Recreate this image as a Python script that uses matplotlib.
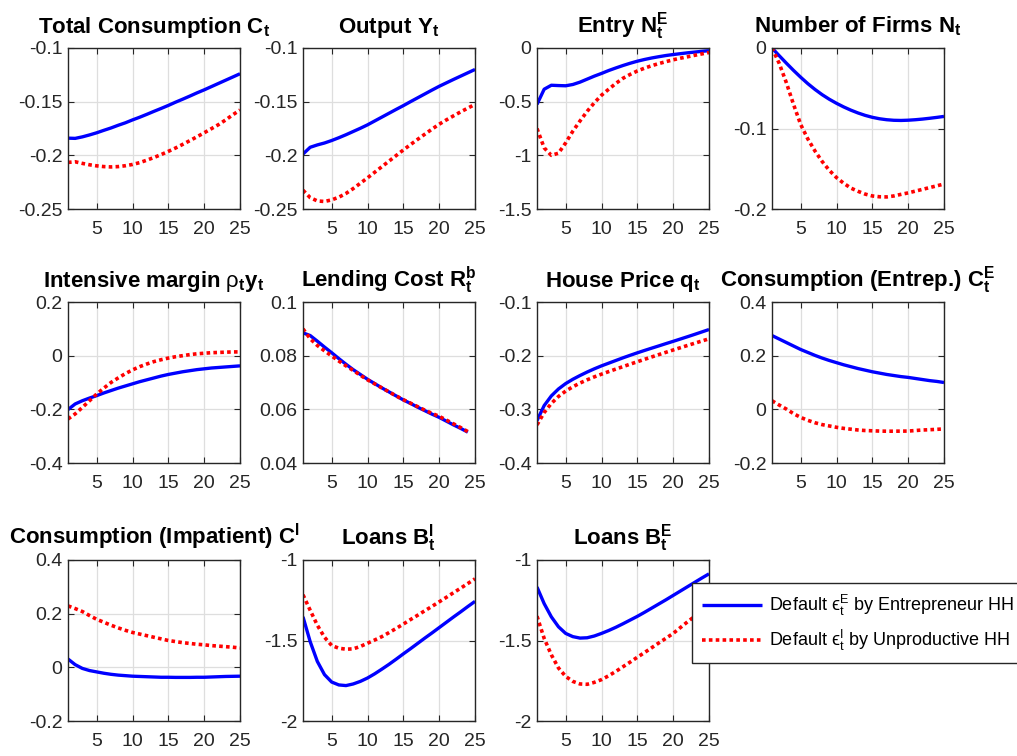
import numpy as np
import matplotlib
matplotlib.use("Agg")
import matplotlib.pyplot as plt
from matplotlib.ticker import FormatStrFormatter

plt.rcParams['font.family'] = ['Liberation Sans', 'DejaVu Sans']
plt.rcParams['mathtext.fontset'] = 'custom'
plt.rcParams['mathtext.rm'] = 'Liberation Sans'
plt.rcParams['mathtext.it'] = 'Liberation Sans:italic'
plt.rcParams['mathtext.bf'] = 'Liberation Sans:bold'
plt.rcParams['mathtext.default'] = 'regular'

# impulse responses, horizon 1..25
t = np.arange(1, 26)

cons_E = [-0.184, -0.1842, -0.1828, -0.181, -0.179, -0.1767, -0.1745, -0.172, -0.1697, -0.167,
          -0.1645, -0.1618, -0.159, -0.1563, -0.1535, -0.1505, -0.1477, -0.1448, -0.1418, -0.139,
          -0.136, -0.133, -0.130, -0.127, -0.124]
cons_I = [-0.2066, -0.2060, -0.2075, -0.2088, -0.2098, -0.2105, -0.2108, -0.2105, -0.2097, -0.2085,
          -0.2068, -0.2045, -0.2020, -0.1993, -0.1963, -0.1932, -0.1898, -0.1863, -0.1827, -0.1790,
          -0.1752, -0.1714, -0.1670, -0.1622, -0.1578]

output_E = [-0.1988, -0.1925, -0.1903, -0.1885, -0.1862, -0.1836, -0.1808, -0.1778, -0.1748, -0.1716,
            -0.1680, -0.1644, -0.1608, -0.1572, -0.1537, -0.1500, -0.1464, -0.1428, -0.1392, -0.1357,
            -0.1325, -0.1293, -0.1262, -0.1231, -0.1200]
output_I = [-0.2325, -0.2394, -0.2425, -0.2430, -0.2415, -0.2390, -0.2355, -0.2310, -0.2260, -0.2210,
            -0.2158, -0.2106, -0.2054, -0.2002, -0.1950, -0.1900, -0.1851, -0.1803, -0.1756, -0.1710,
            -0.1670, -0.1632, -0.1595, -0.1560, -0.1525]

entry_E = [-0.525, -0.384, -0.347, -0.350, -0.352, -0.340, -0.318, -0.290, -0.262, -0.237,
           -0.210, -0.186, -0.163, -0.142, -0.123, -0.107, -0.093, -0.081, -0.070, -0.061,
           -0.053, -0.045, -0.038, -0.031, -0.025]
entry_I = [-0.750, -0.930, -1.000, -0.980, -0.884, -0.775, -0.680, -0.590, -0.510, -0.440,
           -0.384, -0.330, -0.282, -0.246, -0.214, -0.188, -0.165, -0.145, -0.127, -0.110,
           -0.095, -0.082, -0.068, -0.055, -0.042]

firms_E = [0.0, -0.0095, -0.0188, -0.0278, -0.0363, -0.0443, -0.0515, -0.0580, -0.0637, -0.0687,
           -0.0732, -0.0772, -0.0807, -0.0837, -0.0861, -0.0879, -0.0891, -0.0898, -0.0900, -0.0897,
           -0.0891, -0.0883, -0.0873, -0.0862, -0.0850]
firms_I = [0.0, -0.019, -0.043, -0.070, -0.095, -0.113, -0.128, -0.141, -0.152, -0.161,
           -0.168, -0.174, -0.178, -0.1815, -0.1838, -0.1848, -0.185, -0.1838, -0.1818, -0.180,
           -0.1778, -0.1756, -0.1734, -0.1712, -0.169]

margin_E = [-0.201, -0.180, -0.168, -0.158, -0.149, -0.139, -0.130, -0.121, -0.113, -0.105,
            -0.097, -0.090, -0.083, -0.076, -0.070, -0.065, -0.060, -0.056, -0.052, -0.049,
            -0.046, -0.044, -0.042, -0.040, -0.038]
margin_I = [-0.236, -0.217, -0.193, -0.168, -0.143, -0.121, -0.100, -0.083, -0.067, -0.053,
            -0.041, -0.031, -0.022, -0.015, -0.009, -0.004, 0.000, 0.004, 0.007, 0.009,
            0.011, 0.012, 0.013, 0.014, 0.014]

# lending cost is only reported up to period 24
rb_E = [0.0885, 0.0875, 0.0854, 0.0832, 0.0811, 0.0789, 0.0768, 0.0748, 0.0730, 0.0712,
        0.0696, 0.0680, 0.0665, 0.0650, 0.0635, 0.0622, 0.0608, 0.0595, 0.0582, 0.0570,
        0.0556, 0.0542, 0.0529, 0.0515]
rb_I = [0.0900, 0.0863, 0.0838, 0.0818, 0.0799, 0.0780, 0.0762, 0.0745, 0.0727, 0.0710,
        0.0695, 0.0680, 0.0665, 0.0650, 0.0636, 0.0623, 0.0610, 0.0597, 0.0585, 0.0574,
        0.0560, 0.0546, 0.0532, 0.0517]

house_E = [-0.321, -0.293, -0.275, -0.262, -0.252, -0.244, -0.237, -0.2305, -0.2245, -0.219,
           -0.214, -0.209, -0.204, -0.1993, -0.1947, -0.1903, -0.186, -0.1818, -0.1775, -0.1733,
           -0.169, -0.1647, -0.1603, -0.1558, -0.1513]
house_I = [-0.329, -0.306, -0.289, -0.276, -0.266, -0.258, -0.251, -0.245, -0.2395, -0.2345,
           -0.2297, -0.225, -0.2204, -0.2158, -0.2113, -0.2068, -0.2024, -0.198, -0.1937, -0.1894,
           -0.1852, -0.181, -0.1768, -0.1727, -0.1686]

centr_E = [0.275, 0.262, 0.249, 0.236, 0.223, 0.212, 0.201, 0.191, 0.182, 0.174,
           0.166, 0.159, 0.152, 0.146, 0.140, 0.135, 0.130, 0.126, 0.122, 0.119,
           0.115, 0.111, 0.107, 0.104, 0.100]
centr_I = [0.032, 0.016, 0.001, -0.016, -0.030, -0.041, -0.050, -0.057, -0.062, -0.067,
           -0.071, -0.074, -0.077, -0.079, -0.080, -0.081, -0.0815, -0.0815, -0.0812, -0.081,
           -0.079, -0.077, -0.076, -0.0745, -0.073]

cimp_E = [0.031, 0.010, -0.004, -0.012, -0.017, -0.022, -0.026, -0.029, -0.031, -0.033,
          -0.034, -0.035, -0.036, -0.037, -0.037, -0.0375, -0.0375, -0.0375, -0.037, -0.037,
          -0.036, -0.035, -0.034, -0.0335, -0.033]
cimp_I = [0.229, 0.219, 0.208, 0.193, 0.179, 0.168, 0.157, 0.147, 0.138, 0.130,
          0.124, 0.118, 0.112, 0.106, 0.100, 0.096, 0.092, 0.089, 0.086, 0.084,
          0.081, 0.079, 0.077, 0.075, 0.072]

loansI_E = [-1.353, -1.507, -1.630, -1.712, -1.758, -1.776, -1.780, -1.770, -1.754, -1.733,
            -1.707, -1.678, -1.648, -1.616, -1.583, -1.551, -1.518, -1.485, -1.453, -1.420,
            -1.387, -1.354, -1.322, -1.289, -1.257]
loansI_I = [-1.216, -1.312, -1.405, -1.480, -1.531, -1.548, -1.554, -1.552, -1.537, -1.517,
            -1.497, -1.476, -1.451, -1.425, -1.398, -1.370, -1.343, -1.315, -1.288, -1.260,
            -1.232, -1.203, -1.175, -1.146, -1.117]

loansE_E = [-1.168, -1.271, -1.353, -1.415, -1.456, -1.476, -1.485, -1.483, -1.472, -1.456,
            -1.438, -1.418, -1.396, -1.373, -1.350, -1.325, -1.299, -1.273, -1.247, -1.220,
            -1.193, -1.166, -1.139, -1.112, -1.086]
loansE_I = [-1.349, -1.487, -1.589, -1.671, -1.723, -1.754, -1.770, -1.772, -1.760, -1.743,
            -1.719, -1.692, -1.663, -1.634, -1.604, -1.575, -1.545, -1.515, -1.486, -1.456,
            -1.420, -1.384, -1.350, -1.318, -1.287]

titles = ['Total Consumption C$_t$', 'Output Y$_t$', 'Entry N$_t^E$', 'Number of Firms N$_t$',
          r'Intensive margin $\mathrm{\rho}_t$y$_t$', 'Lending Cost R$_t^b$', 'House Price q$_t$',
          'Consumption (Entrep.) C$_t^E$', 'Consumption (Impatient) C$^I$',
          'Loans B$_t^I$', 'Loans B$_t^E$']
series_E = [cons_E, output_E, entry_E, firms_E, margin_E, rb_E, house_E, centr_E, cimp_E, loansI_E, loansE_E]
series_I = [cons_I, output_I, entry_I, firms_I, margin_I, rb_I, house_I, centr_I, cimp_I, loansI_I, loansE_I]
yticks = [[-0.25, -0.2, -0.15, -0.1], [-0.25, -0.2, -0.15, -0.1], [-1.5, -1, -0.5, 0], [-0.2, -0.1, 0],
          [-0.4, -0.2, 0, 0.2], [0.04, 0.06, 0.08, 0.1], [-0.4, -0.3, -0.2, -0.1], [-0.2, 0, 0.2, 0.4],
          [-0.2, 0, 0.2, 0.4], [-2, -1.5, -1], [-2, -1.5, -1]]
legend_labels = ['Default $ϵ_t^E$ by Entrepreneur HH', 'Default $ϵ_t^I$ by Unproductive HH']

W, H = 1017, 756
fig = plt.figure(figsize=(W / 100, H / 100), dpi=100)

col_left = [68, 303, 537, 772]
row_top = [48, 302, 560]
aw, ah = 172, 161

dark = '#262626'
lines = None
for k in range(11):
    r, c = divmod(k, 4)
    ax = fig.add_axes([col_left[c] / W, 1 - (row_top[r] + ah) / H, aw / W, ah / H])
    y_E = series_E[k]
    y_I = series_I[k]
    hE, = ax.plot(t[:len(y_E)], y_E, color='#0000ff', lw=2.4, solid_capstyle='butt')
    hI, = ax.plot(t[:len(y_I)], y_I, color='#ff0000', lw=2.6, linestyle=(0, (1, 0.9)))
    lines = [hE, hI]
    ax.set_xlim(1, 25)
    ax.set_xticks([5, 10, 15, 20, 25])
    ax.set_yticks(yticks[k])
    ax.set_ylim(yticks[k][0], yticks[k][-1])
    ax.yaxis.set_major_formatter(FormatStrFormatter('%g'))
    ax.grid(True, color='#dedede', lw=0.9)
    ax.set_axisbelow(True)
    ax.tick_params(direction='in', top=True, right=True, length=4, width=0.8,
                   colors=dark, labelsize=14)
    ax.tick_params(axis='x', pad=9)
    ax.tick_params(axis='y', pad=4)
    for s in ax.spines.values():
        s.set_color(dark)
        s.set_linewidth(1.0)
    # the wide title without subscript has to clear the neighbouring tick labels
    pad = 11 if '_' in titles[k] else 12
    ax.set_title(titles[k], fontsize=16, fontweight='bold', pad=pad)

leg = fig.legend(lines, legend_labels, loc='upper left',
                 bbox_to_anchor=(692 / W, 1 - 583 / H), borderaxespad=0,
                 fontsize=13, handlelength=3.3, handletextpad=0.4, fancybox=False,
                 framealpha=1, edgecolor=dark, borderpad=0.55, labelspacing=0.55)
leg.get_frame().set_linewidth(1.0)

fig.savefig('out.png', dpi=100)
